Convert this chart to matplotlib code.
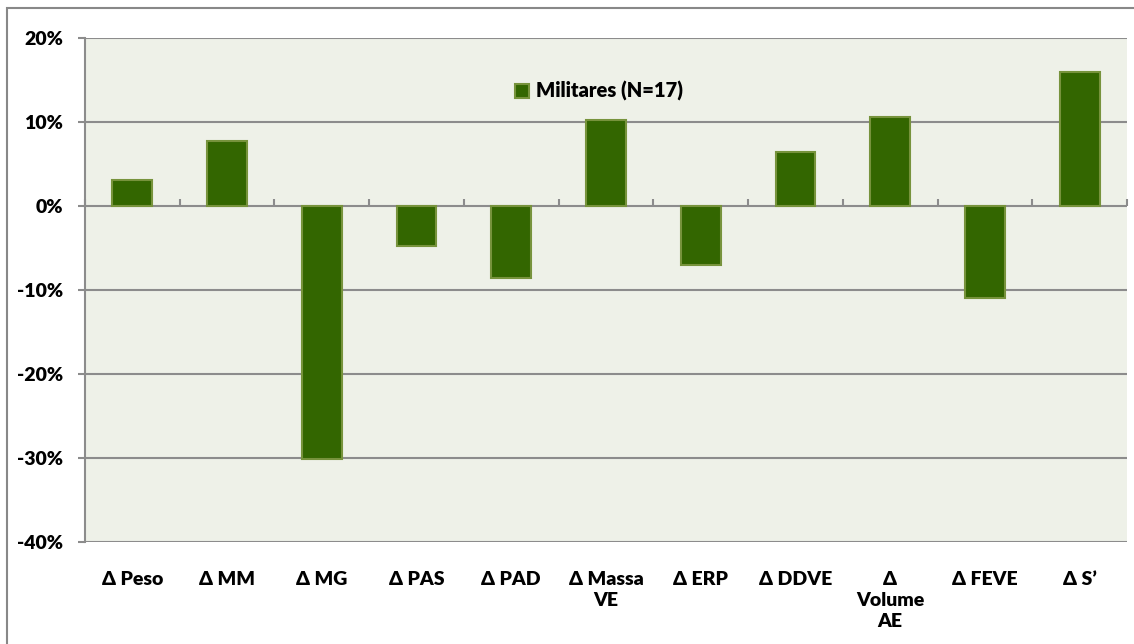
import numpy as np
import matplotlib
matplotlib.use('Agg')
from matplotlib import pyplot as plt
from matplotlib import patches
from matplotlib.ticker import FixedLocator, NullFormatter, PercentFormatter

categories = ['Δ Peso', 'Δ MM', 'Δ MG', 'Δ PAS', 'Δ PAD', 'Δ Massa\nVE', 'Δ ERP',
              'Δ DDVE', 'Δ\nVolume\nAE', 'Δ FEVE', 'Δ S’']
militares = [3.1, 7.7, -30.1, -4.8, -8.6, 10.2, -7.0, 6.4, 10.6, -11.0, 15.9]
series_label = 'Militares (N=17)'

plt.rcParams['font.family'] = ['Lato', 'DejaVu Sans']
plt.rcParams['font.weight'] = 'heavy'
plt.rcParams['axes.unicode_minus'] = False

grid_c = '#8c8c8c'
bar_c = '#336600'
edge_c = '#77933c'
bg_c = '#eef1e8'

fig = plt.figure(figsize=(11.34, 6.44), dpi=100)
W, H = 1134, 644
ax = fig.add_axes([85 / W, 1 - 541.7 / H, (1127 - 85) / W, (541.7 - 38) / H])
ax.set_facecolor(bg_c)

x = np.arange(len(categories))
ax.bar(x, militares, width=0.42, color=bar_c, edgecolor=edge_c, linewidth=1.5,
       label=series_label, zorder=3)

ax.set_xlim(-0.5, len(categories) - 0.5)
ax.set_ylim(-40, 20)
ax.set_yticks(np.arange(-40, 21, 10))
ax.yaxis.set_major_formatter(PercentFormatter(decimals=0))
ax.grid(axis='y', color=grid_c, linewidth=1.5, zorder=1)
ax.set_axisbelow(True)

for s in ['top', 'right', 'bottom']:
    ax.spines[s].set_visible(False)
ax.spines['left'].set_color(grid_c)
ax.spines['left'].set_linewidth(1.5)

ax.tick_params(axis='y', direction='out', length=5, width=1.5, color=grid_c,
               pad=11, labelsize=14)
ax.set_xticks(x)
ax.set_xticklabels(categories, fontsize=14, linespacing=1.3, va='top')
ax.tick_params(axis='x', length=0, pad=21)

# category-boundary ticks on the zero line (the line itself is the 0% gridline)
sec = ax.secondary_xaxis(2 / 3)
sec.xaxis.set_major_locator(FixedLocator(np.arange(-0.5, len(categories), 1.0)))
sec.xaxis.set_major_formatter(NullFormatter())
sec.tick_params(direction='out', length=5, width=1.5, color=grid_c)
for s in sec.spines.values():
    s.set_visible(False)

ax.legend(loc='upper left', bbox_to_anchor=(0.395, 0.95), frameon=False,
          fontsize=14.5, handlelength=0.7, handleheight=0.7, handletextpad=0.35)

fig.patches.append(patches.Rectangle((7 / W, -0.1), 1.2, (H - 8) / H + 0.1,
                                     transform=fig.transFigure, fill=False,
                                     edgecolor='#888888', linewidth=1.5))

fig.savefig('out.png', dpi=100)
